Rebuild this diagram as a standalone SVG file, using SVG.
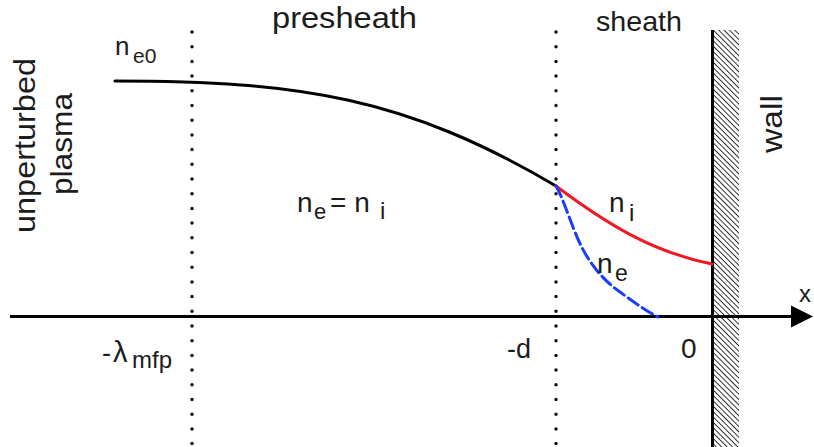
<svg xmlns="http://www.w3.org/2000/svg" width="814" height="447" viewBox="0 0 814 447">
<style>
  .lbl { font-family: "Liberation Sans", Arial, Helvetica, sans-serif; fill: #1c1c1c; }
  .dots { stroke: #111; stroke-width: 3.5; stroke-linecap: round; stroke-dasharray: 0 14.7; fill: none; }
  .curve { fill: none; stroke-width: 3; stroke-linecap: round; }
</style>
<defs>
  <pattern id="hatch" width="3.8" height="3.8" patternUnits="userSpaceOnUse" patternTransform="rotate(-45)">
    <line x1="0" y1="-1" x2="0" y2="5" stroke="#000" stroke-width="1.6"/>
  </pattern>
  <marker id="arrow" markerUnits="userSpaceOnUse" markerWidth="22" markerHeight="24" refX="9" refY="12" orient="auto">
    <path d="M0,1 L22,12 L0,23 z" fill="#000"/>
  </marker>
</defs>
<rect width="814" height="447" fill="#fff"/>

<g id="guides">
  <line class="dots" x1="192" y1="32" x2="192" y2="447"/>
  <line class="dots" x1="556" y1="32" x2="556" y2="447"/>
</g>

<g id="wall">
  <rect x="713" y="30" width="26" height="417" fill="url(#hatch)"/>
  <line x1="712.5" y1="30" x2="712.5" y2="447" stroke="#000" stroke-width="3"/>
</g>

<g id="connectors">
  <line id="x-axis" x1="10" y1="316.5" x2="800" y2="316.5" stroke="#000" stroke-width="3" marker-end="url(#arrow)"/>
  <path id="n-presheath" class="curve" stroke="#000" d="M115,81 C300,81 406,97.5 556,186"/>
  <path id="n-i" class="curve" stroke="#f01824" d="M556,186 C606,223.5 652,252 712,264"/>
  <path id="n-e" class="curve" stroke="#1a3cff" stroke-dasharray="12 5" stroke-linecap="butt" d="M556,186 C562,196 568,215 575,232 C585,258 600,278 620,292 C635,303 648,312 658,317"/>
</g>

<g id="labels">
  <text class="lbl" x="272" y="28" font-size="30" textLength="145" lengthAdjust="spacingAndGlyphs">presheath</text>
  <text class="lbl" x="596" y="31" font-size="28" textLength="86" lengthAdjust="spacingAndGlyphs">sheath</text>
  <text class="lbl" transform="translate(782,124) rotate(-90)" text-anchor="middle" font-size="30" textLength="58" lengthAdjust="spacingAndGlyphs">wall</text>
  <text class="lbl" transform="translate(35,145.5) rotate(-90)" text-anchor="middle" font-size="30" textLength="175" lengthAdjust="spacingAndGlyphs">unperturbed</text>
  <text class="lbl" transform="translate(72,144) rotate(-90)" text-anchor="middle" font-size="30" textLength="102" lengthAdjust="spacingAndGlyphs">plasma</text>

  <text class="lbl" font-size="26"><tspan x="115" y="55">n</tspan><tspan x="133" y="63" font-size="21">e0</tspan></text>
  <text class="lbl" font-size="28"><tspan x="297" y="212">n</tspan><tspan x="314" y="219" font-size="22">e</tspan><tspan x="330" y="212">= n</tspan><tspan x="380" y="219" font-size="24">i</tspan></text>
  <text class="lbl" font-size="28"><tspan x="609" y="212">n</tspan><tspan x="629" y="221" font-size="24">i</tspan></text>
  <text class="lbl" font-size="28"><tspan x="597" y="273">n</tspan><tspan x="615" y="281" font-size="23">e</tspan></text>

  <text class="lbl" font-size="27"><tspan x="102" y="362">-</tspan><tspan x="113" y="362" font-size="29">λ</tspan><tspan x="132" y="368" font-size="24">mfp</tspan></text>
  <text class="lbl" x="507" y="358" font-size="27">-d</text>
  <text class="lbl" x="681" y="358" font-size="28">0</text>
  <text class="lbl" x="799" y="302" font-size="24">x</text>
</g>
</svg>
